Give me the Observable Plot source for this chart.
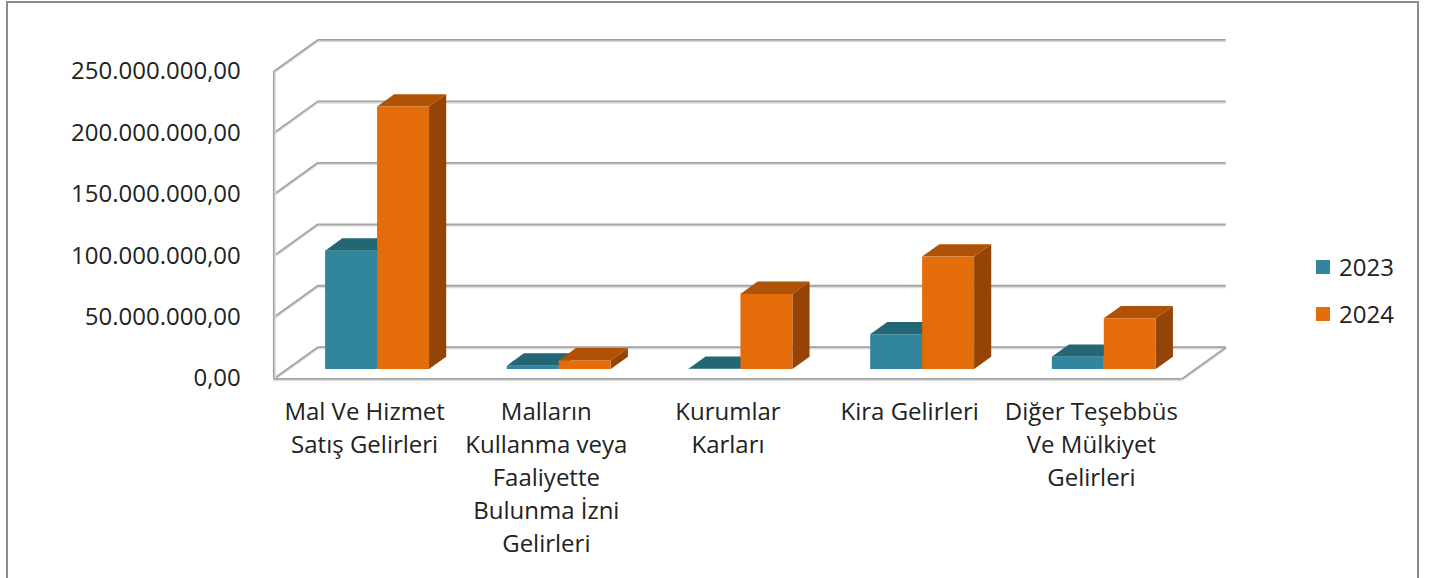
<!DOCTYPE html>
<html>
<head>
<meta charset="utf-8">
<script src="https://cdn.jsdelivr.net/npm/d3@7"></script>
<script src="https://cdn.jsdelivr.net/npm/@observablehq/plot@0.6"></script>
<style>
  html, body { margin: 0; padding: 0; background: #fff; }
  body { width: 1431px; height: 578px; position: relative; overflow: hidden; font-family: "Open Sans", sans-serif; }
  #frame { position: absolute; left: 6px; top: 1px; width: 1413px; height: 640px; border: 2px solid #8c8c8c; box-sizing: border-box; }
  #chart { position: absolute; left: 0; top: 0; }
  .leg { position: absolute; left: 1316px; font-size: 24px; color: #222; line-height: 1; }
  .leg span.sw { position: absolute; left: 0; width: 14px; height: 14px; }
  .leg span.tx { position: absolute; left: 23px; white-space: nowrap; }
</style>
</head>
<body>
<div id="frame"></div>
<div id="chart"></div>
<script>
// ---- data ----
const categories = [
  "Mal Ve Hizmet\nSatış Gelirleri",
  "Malların\nKullanma veya\nFaaliyette\nBulunma İzni\nGelirleri",
  "Kurumlar\nKarları",
  "Kira Gelirleri",
  "Diğer Teşebbüs\nVe Mülkiyet\nGelirleri"
];
const seriesNames = ["2023", "2024"];
const values2023 = [96.3e6, 2.7e6, 0.2e6, 28.3e6, 10.0e6];
const values2024 = [213.6e6, 7.0e6, 61.1e6, 91.5e6, 41.3e6];
const yTicks = [0, 50e6, 100e6, 150e6, 200e6, 250e6];

// ---- styling / geometry ----
const colors = {
  "2023": {front: "#31859c", top: "#236674", side: "#1d5563"},
  "2024": {front: "#e46c0a", top: "#b05206", side: "#944406"}
};
const DX = 0.2422;     // full depth offset in category units
const DY = 25.7e6;     // full depth offset in value units
const d0 = 0.294, d1 = 0.684;  // bar front / back depth
const barW = 0.286;
const gridColor = "#a3a3a3";

const fmt = d3.formatLocale({decimal: ",", thousands: ".", grouping: [3], currency: ["", ""]}).format(",.2f");

function faces(values, s) {
  const fronts = [], tops = [], sides = [];
  values.forEach((v, i) => {
    const left = i + 0.5 - barW + s * barW;
    const id = i + "-" + s;
    fronts.push({x1: left + d0 * DX, x2: left + barW + d0 * DX, y1: d0 * DY, y2: v + d0 * DY});
    tops.push({id, y: v + d0 * DY, x1: left + d0 * DX, x2: left + barW + d0 * DX});
    tops.push({id, y: v + d1 * DY, x1: left + d1 * DX, x2: left + barW + d1 * DX});
    sides.push({id, x: left + barW + d0 * DX, y1: d0 * DY, y2: v + d0 * DY});
    sides.push({id, x: left + barW + d1 * DX, y1: d1 * DY, y2: v + d1 * DY});
  });
  return {fronts, tops, sides};
}
const F = [faces(values2023, 0), faces(values2024, 1)];

function gridMarks(stroke, sw, dy) {
  return [
    Plot.ruleY(yTicks, {y: v => v + DY, x1: DX, x2: 5 + DX, stroke, strokeWidth: sw, dy}),
    Plot.link(yTicks, {x1: 0, y1: v => v, x2: DX, y2: v => v + DY, stroke, strokeWidth: sw, dy}),
    Plot.ruleY([0], {x1: 0, x2: 5, stroke, strokeWidth: sw, dy}),
    Plot.link([0], {x1: 5, y1: 0, x2: 5 + DX, y2: DY, stroke, strokeWidth: sw, dy})
  ];
}

const marks = [
  ...gridMarks("#dedede", 1.6, 1.6),
  ...gridMarks(gridColor, 1.8, 0),
  Plot.ruleX([0], {y1: 0, y2: 250e6, stroke: gridColor, strokeWidth: 1.8}),
  Plot.ruleX([0], {y1: 0, y2: 250e6, stroke: "#dedede", strokeWidth: 1.4, dx: 1.6}),
];
F.forEach((f, s) => {
  marks.push(Plot.areaY(f.sides, {x: "x", y1: "y1", y2: "y2", z: "id", fill: colors[seriesNames[s]].side, curve: "linear"}));
});
F.forEach((f, s) => {
  marks.push(Plot.areaX(f.tops, {y: "y", x1: "x1", x2: "x2", z: "id", fill: colors[seriesNames[s]].top, curve: "linear"}));
});
F.forEach((f, s) => {
  marks.push(Plot.rect(f.fronts, {x1: "x1", x2: "x2", y1: "y1", y2: "y2", fill: colors[seriesNames[s]].front}));
});
marks.push(
  Plot.axisY(yTicks, {tickSize: 0, tickPadding: 33, tickFormat: fmt, fontSize: 24, fill: "#222"}),
  Plot.text(categories, {x: (d, i) => i + 0.5, y: 0, text: d => d, lineAnchor: "top", dy: 18, lineHeight: 1.37, fontSize: 24, fill: "#222"})
);

const chart = Plot.plot({
  width: 1431,
  height: 578,
  marginLeft: 273.3,
  marginRight: 249.3,
  marginTop: 71,
  marginBottom: 199.7,
  x: {type: "linear", domain: [0, 5], axis: null},
  y: {type: "linear", domain: [0, 250e6], axis: null},
  style: {fontFamily: "Open Sans", fontSize: "24px", background: "transparent", overflow: "visible"},
  marks
});
document.getElementById("chart").appendChild(chart);

// legend
const legTops = [259, 306];
seriesNames.forEach((s, k) => {
  const el = document.createElement("div");
  el.className = "leg";
  el.style.top = legTops[k] + "px";
  el.innerHTML = `<span class="sw" style="top:1px;background:${colors[s].front}"></span><span class="tx" style="top:-4px">${s}</span>`;
  document.body.appendChild(el);
});
</script>
</body>
</html>
